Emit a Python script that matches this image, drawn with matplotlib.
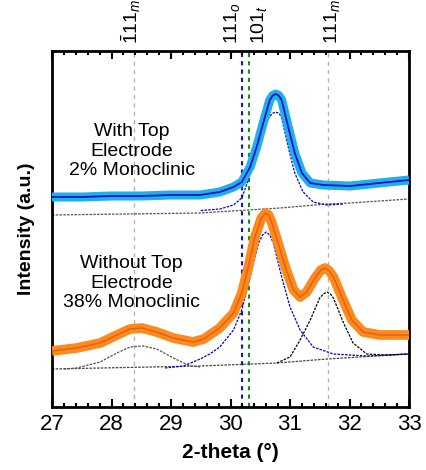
import matplotlib
matplotlib.use("Agg")
import matplotlib.pyplot as plt
from matplotlib.ticker import MultipleLocator
from matplotlib.transforms import blended_transform_factory

plt.rcParams['font.family'] = ['Liberation Sans', 'DejaVu Sans']
plt.rcParams['mathtext.fontset'] = 'custom'
plt.rcParams['mathtext.rm'] = 'Liberation Sans'
plt.rcParams['mathtext.it'] = 'Liberation Sans:italic'

# --- with top electrode (upper trace) ---
theta_top = [27.0, 27.5, 28.0, 28.5, 29.0, 29.49, 29.82, 30.05, 30.19, 30.33, 30.44,
             30.55, 30.66, 30.71, 30.76, 30.81, 30.86, 30.97, 31.08, 31.20, 31.34,
             31.56, 32.01, 32.5, 33.0]
int_top = [210, 210, 211, 211, 212, 212, 215, 220, 225, 240, 260,
           284, 307, 311.5, 313, 311.5, 307, 280, 254, 234, 224,
           222, 221, 224, 227]

theta_top_peak = [29.5, 29.82, 30.05, 30.19, 30.30, 30.41, 30.52, 30.64, 30.70, 30.76,
                  30.82, 30.86, 30.97, 31.08, 31.22, 31.39, 31.62, 31.9]
int_top_peak = [196.5, 198, 202, 209, 227, 254, 274, 289, 293.5, 295,
                293.5, 289, 260, 234, 215, 205, 202, 203]

theta_top_bg = [27.0, 29.49, 30.83, 31.62, 32.01, 33.0]
int_top_bg = [192, 194, 199, 203, 204, 208]

# --- without top electrode (lower trace) ---
theta_bot = [27.0, 27.41, 27.81, 28.09, 28.31, 28.51, 28.76, 29.04, 29.37, 29.55,
             29.82, 30.05, 30.19, 30.30, 30.41, 30.52, 30.59, 30.64, 30.69, 30.80,
             30.92, 31.06, 31.17, 31.28, 31.42, 31.52, 31.59, 31.66, 31.73, 31.87,
             32.04, 32.23, 32.51, 32.96, 33.0]
int_bot = [56, 59, 64, 72, 78, 79, 75, 69, 65, 68,
           79, 94, 114, 140, 170, 189, 194, 192, 185, 164,
           140, 117, 110, 115, 129, 137, 139, 136, 130, 110,
           87, 75, 72, 72, 72]

theta_m1 = [27.2, 27.41, 27.81, 28.09, 28.31, 28.53, 28.76, 29.04, 29.32, 29.5]
int_m1 = [38, 39, 45, 54, 60, 61, 58, 49, 41, 40]

theta_t = [28.9, 29.21, 29.49, 29.65, 29.82, 30.05, 30.19, 30.33, 30.47, 30.54,
           30.60, 30.66, 30.72, 30.86, 31.0, 31.17, 31.39, 31.73, 32.29, 33.0]
int_t = [39, 41, 48, 53, 60, 77, 97, 130, 164, 172,
         175, 172, 164, 130, 100, 77, 60, 53, 51, 53]

theta_m2 = [30.78, 31.0, 31.17, 31.34, 31.50, 31.56, 31.62, 31.68, 31.73, 31.90,
            32.06, 32.29, 32.6, 33.0]
int_m2 = [44, 50, 67, 87, 109, 113, 115, 113, 109, 84,
          64, 53, 52, 53]

theta_bot_bg = [27.0, 29.49, 30.78, 31.62, 33.0]
int_bot_bg = [38, 41, 44, 48, 53]

# reflection markers
ref_pos = [28.37, 30.20, 30.31, 31.64]
ref_labels = [r'$\bar{1}11_{\mathit{m}}$', r'$111_{\mathit{o}}$', r'$101_{\mathit{t}}$', r'$111_{\mathit{m}}$']
label_pos = [28.33, 30.03, 30.48, 31.71]

fig = plt.figure(figsize=(4.27, 4.7), dpi=100)
ax = fig.add_axes([52 / 427, 63 / 470, 357 / 427, 356 / 470])

# reference lines
ax.axvline(ref_pos[0], color='#b4b4b4', lw=1, ls=(0, (3, 3)), zorder=1)
ax.axvline(ref_pos[3], color='#b4b4b4', lw=1, ls=(0, (3, 3)), zorder=1)
ax.axvline(ref_pos[1], color='#1010e0', lw=1.5, ls=(0, (2, 2)), zorder=1)
ax.axvline(ref_pos[2], color='#10901a', lw=1.5, ls=(0, (2, 2)), zorder=1)

# upper trace
ax.plot(theta_top_bg, int_top_bg, color='#555555', lw=0.9, ls=(0, (2, 1)), zorder=2)
ax.plot(theta_top_peak, int_top_peak, color='#0000cc', lw=0.9, ls=(0, (2, 1)), zorder=2)
ax.plot(theta_top, int_top, color='#1fb0ea', lw=6.5, solid_joinstyle='round',
        solid_capstyle='butt', zorder=3)
ax.plot(theta_top, int_top, color='#1414c8', lw=1.3, solid_joinstyle='round', zorder=4)

# lower trace
ax.plot(theta_bot_bg, int_bot_bg, color='#444444', lw=0.9, ls=(0, (2, 1)), zorder=2)
ax.plot(theta_m1, int_m1, color='#555555', lw=0.9, ls=(0, (2, 1)), zorder=2)
ax.plot(theta_t, int_t, color='#0000cc', lw=0.9, ls=(0, (2, 1)), zorder=2)
ax.plot(theta_m2, int_m2, color='#000000', lw=0.9, ls=(0, (2, 1)), zorder=2)
ax.plot(theta_bot, int_bot, color='#ff8a1c', lw=7, solid_joinstyle='round',
        solid_capstyle='butt', zorder=3)
ax.plot(theta_bot, int_bot, color='#e0621a', lw=1.1, solid_joinstyle='round', zorder=4)

ax.text(28.34, 256, 'With Top\nElectrode\n2% Monoclinic', ha='center', va='center',
        fontsize=14, linespacing=1.2)
ax.text(28.34, 124, 'Without Top\nElectrode\n38% Monoclinic', ha='center', va='center',
        fontsize=14, linespacing=1.2)

trans = blended_transform_factory(ax.transData, ax.transAxes)
for xp, lab in zip(label_pos, ref_labels):
    ax.text(xp, 1.02, lab, transform=trans, rotation=90, ha='center', va='bottom',
            fontsize=14)

ax.set_xlim(27, 33)
ax.set_ylim(0, 356)
ax.set_yticks([])
ax.xaxis.set_major_locator(MultipleLocator(1))
ax.xaxis.set_minor_locator(MultipleLocator(0.2))
ax.tick_params(axis='x', which='both', direction='in', top=True, bottom=True, width=1.5)
ax.tick_params(axis='x', which='major', length=6, labelsize=16, pad=5)
ax.tick_params(axis='x', which='minor', length=3)
for sp in ax.spines.values():
    sp.set_linewidth(2)

ax.set_xlabel('2-theta (°)', fontsize=15, fontweight='bold', labelpad=6)
ax.set_ylabel('Intensity (a.u.)', fontsize=14, fontweight='bold', labelpad=12)

fig.savefig('out.png', dpi=100)
